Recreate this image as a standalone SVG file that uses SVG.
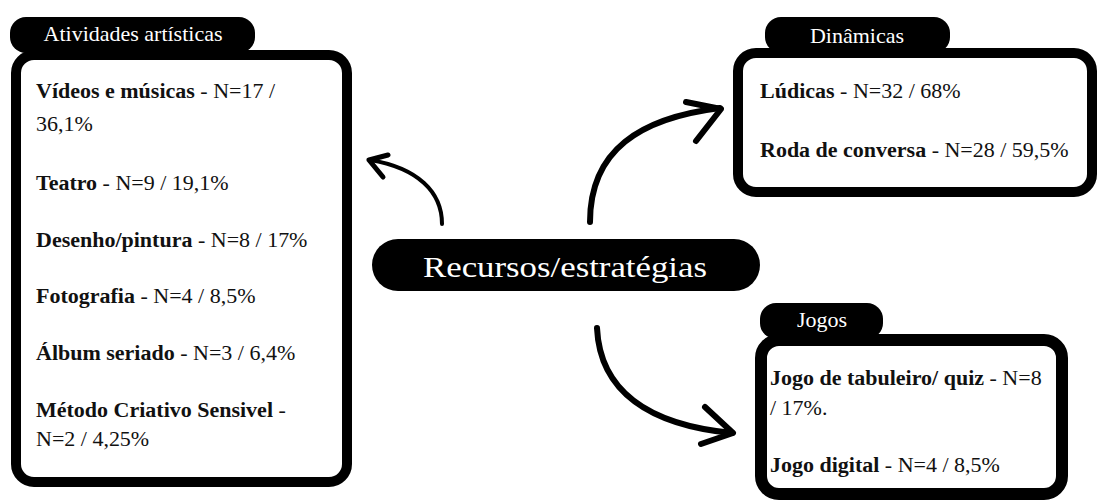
<svg xmlns="http://www.w3.org/2000/svg" width="1099" height="501" viewBox="0 0 1099 501">
<style>
.box{fill:#fff;stroke:#000;stroke-width:10}
.pill{fill:#000}
.ttl{font-family:"Liberation Serif",serif;font-size:20px;fill:#fff;text-anchor:middle}
.t{font-family:"Liberation Serif",serif;font-size:20px;fill:#111}
.b{font-weight:bold}
.arr{fill:none;stroke:#000;stroke-linecap:round;stroke-linejoin:round}
</style>
<rect width="1099" height="501" fill="#fff"/>
<g id="connectors">
<path class="arr" stroke-width="4" d="M442,224 C442,192 418,168 370,160"/>
<path class="arr" stroke-width="5" d="M388,155 L369,160 L383,177"/>
<path class="arr" stroke-width="6" d="M590,222 C590,150 640,118 720,108"/>
<path class="arr" stroke-width="6" d="M686,102 L721,109 L696,141"/>
<path class="arr" stroke-width="6" d="M597,328 C600,392 650,425 732,433"/>
<path class="arr" stroke-width="6" d="M705,407 L733,433 L701,444"/>
</g>
<g id="artisticas">
<rect class="pill" x="10" y="17" width="245" height="36" rx="16"/>
<rect class="box" x="16" y="55" width="331" height="427" rx="18"/>
<text class="ttl" transform="translate(133,41) scale(1.1,1)">Atividades artísticas</text>
<g transform="translate(36,0) scale(1.1,1)">
<text class="t" y="98"><tspan class="b">Vídeos e músicas</tspan> - N=17 /</text>
<text class="t" y="131">36,1%</text>
<text class="t" y="190"><tspan class="b">Teatro</tspan> - N=9 / 19,1%</text>
<text class="t" y="247"><tspan class="b">Desenho/pintura</tspan> - N=8 / 17%</text>
<text class="t" y="303"><tspan class="b">Fotografia</tspan> - N=4 / 8,5%</text>
<text class="t" y="360"><tspan class="b">Álbum seriado</tspan> - N=3 / 6,4%</text>
<text class="t" y="417"><tspan class="b">Método Criativo Sensivel</tspan> -</text>
<text class="t" y="446">N=2 / 4,25%</text>
</g>
</g>
<g id="dinamicas">
<rect class="pill" x="765" y="17" width="185" height="36" rx="16"/>
<rect class="box" x="738" y="53" width="354" height="139" rx="18"/>
<text class="ttl" transform="translate(857,43) scale(1.1,1)">Dinâmicas</text>
<g transform="translate(760,0) scale(1.1,1)">
<text class="t" y="98"><tspan class="b">Lúdicas</tspan> - N=32 / 68%</text>
<text class="t" y="157"><tspan class="b">Roda de conversa</tspan> - N=28 / 59,5%</text>
</g>
</g>
<g id="jogos">
<rect class="pill" x="760" y="303" width="123" height="36" rx="16"/>
<rect class="box" x="761" y="340" width="301" height="154" rx="18" style="stroke-width:12"/>
<text class="ttl" transform="translate(822,327) scale(1.1,1)">Jogos</text>
<g transform="translate(770,0) scale(1.1,1)">
<text class="t" y="385"><tspan class="b">Jogo de tabuleiro/ quiz</tspan> - N=8</text>
<text class="t" y="415">/ 17%.</text>
<text class="t" y="472"><tspan class="b">Jogo digital</tspan> - N=4 / 8,5%</text>
</g>
</g>
<g id="centro">
<rect class="pill" x="372" y="239" width="388" height="52" rx="26"/>
<text transform="translate(565,277) scale(1.16,1)" style="font-family:'Liberation Serif',serif;font-size:30px;fill:#fff;text-anchor:middle">Recursos/estratégias</text>
</g>
</svg>
